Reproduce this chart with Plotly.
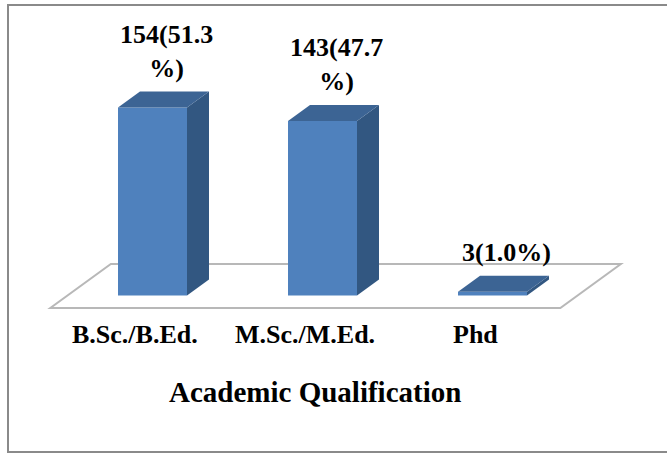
import plotly.graph_objects as go

# ---- data ----
categories = ["B.Sc./B.Ed.", "M.Sc./M.Ed.", "Phd"]
counts = [154, 143, 3]
percents = [51.3, 47.7, 1.0]
bar_labels = ["154(51.3<br>%)", "143(47.7<br>%)", "3(1.0%)"]
axis_title = "Academic Qualification"

# ---- geometry / style ----
W, H = 667, 454
PX_X = 170.0      # pixels per category step
PX_Y = 1.22       # pixels per count unit
X_ORIGIN = 152.5  # pixel of first category centre
Y_ZERO = 295.5    # pixel of value 0
xr = [-X_ORIGIN / PX_X, (W - X_ORIGIN) / PX_X]
yr = [-(H - Y_ZERO) / PX_Y, Y_ZERO / PX_Y]
BW = 69 / PX_X          # bar width in category units
DX = 22 / PX_X          # depth offset (x)
DY = 16 / PX_Y          # depth offset (y)
T_FRONT, T_BACK = -0.78, 1.97

FRONT = "#4F81BD"
TOP = "#3C6494"
SIDE = "#325781"
FONT = "'Times New Roman', 'Liberation Serif', Tinos, 'DejaVu Serif', serif"

xpos = list(range(len(categories)))

fig = go.Figure()

# side and top faces (3D effect), computed from the values
for i, v in zip(xpos, counts):
    r = i + BW / 2
    l = i - BW / 2
    fig.add_trace(go.Scatter(
        x=[r, r + DX, r + DX, r, r], y=[0, DY, v + DY, v, 0],
        mode="lines", fill="toself", fillcolor=SIDE,
        line=dict(width=0, color=SIDE), hoverinfo="skip", showlegend=False))
    fig.add_trace(go.Scatter(
        x=[l, r, r + DX, l + DX, l], y=[v, v, v + DY, v + DY, v],
        mode="lines", fill="toself", fillcolor=TOP,
        line=dict(width=0, color=TOP), hoverinfo="skip", showlegend=False))

# front faces
fig.add_trace(go.Bar(
    x=xpos, y=counts, width=BW, marker=dict(color=FRONT, line=dict(width=0)),
    hoverinfo="skip", showlegend=False))

# floor
xl, xrgt = -0.5, len(categories) - 0.5
fpts = [(xl + T_FRONT * DX, T_FRONT * DY), (xrgt + T_FRONT * DX, T_FRONT * DY),
        (xrgt + T_BACK * DX, T_BACK * DY), (xl + T_BACK * DX, T_BACK * DY)]
path = "M " + " L ".join(f"{a},{b}" for a, b in fpts) + " Z"
fig.add_shape(type="path", path=path, xref="x", yref="y", layer="below",
              line=dict(color="#B8B8B8", width=2), fillcolor="white")

# outer border
fig.add_shape(type="rect", xref="paper", yref="paper",
              x0=8 / W, x1=1.02, y0=1 - 452 / H, y1=1 - 5 / H,
              line=dict(color="#8A8A8A", width=2), layer="below")

# data labels
for i, v, t in zip(xpos, counts, bar_labels):
    fig.add_annotation(x=i + DX / 2 + 0.02, y=v + DY, text=f"<b>{t}</b>",
                       showarrow=False, yanchor="bottom", yshift=7,
                       font=dict(family=FONT, size=26, color="black"))

# category labels
for i, c in zip(xpos, categories):
    fig.add_annotation(x=i + T_FRONT * DX, y=1 - 334 / H, yref="paper",
                       text=f"<b>{c}</b>", showarrow=False, yanchor="middle",
                       font=dict(family=FONT, size=26, color="black"))

# axis title
fig.add_annotation(x=314.5 / W, y=1 - 392 / H, xref="paper", yref="paper",
                   text=f"<b>{axis_title}</b>", showarrow=False, yanchor="middle",
                   font=dict(family=FONT, size=29, color="black"))

fig.update_layout(
    width=W, height=H, margin=dict(l=0, r=0, t=0, b=0),
    paper_bgcolor="white", plot_bgcolor="white",
    font=dict(family=FONT),
    xaxis=dict(range=xr, visible=False, fixedrange=True),
    yaxis=dict(range=yr, visible=False, fixedrange=True),
    showlegend=False,
)

fig.write_html("out.html")
